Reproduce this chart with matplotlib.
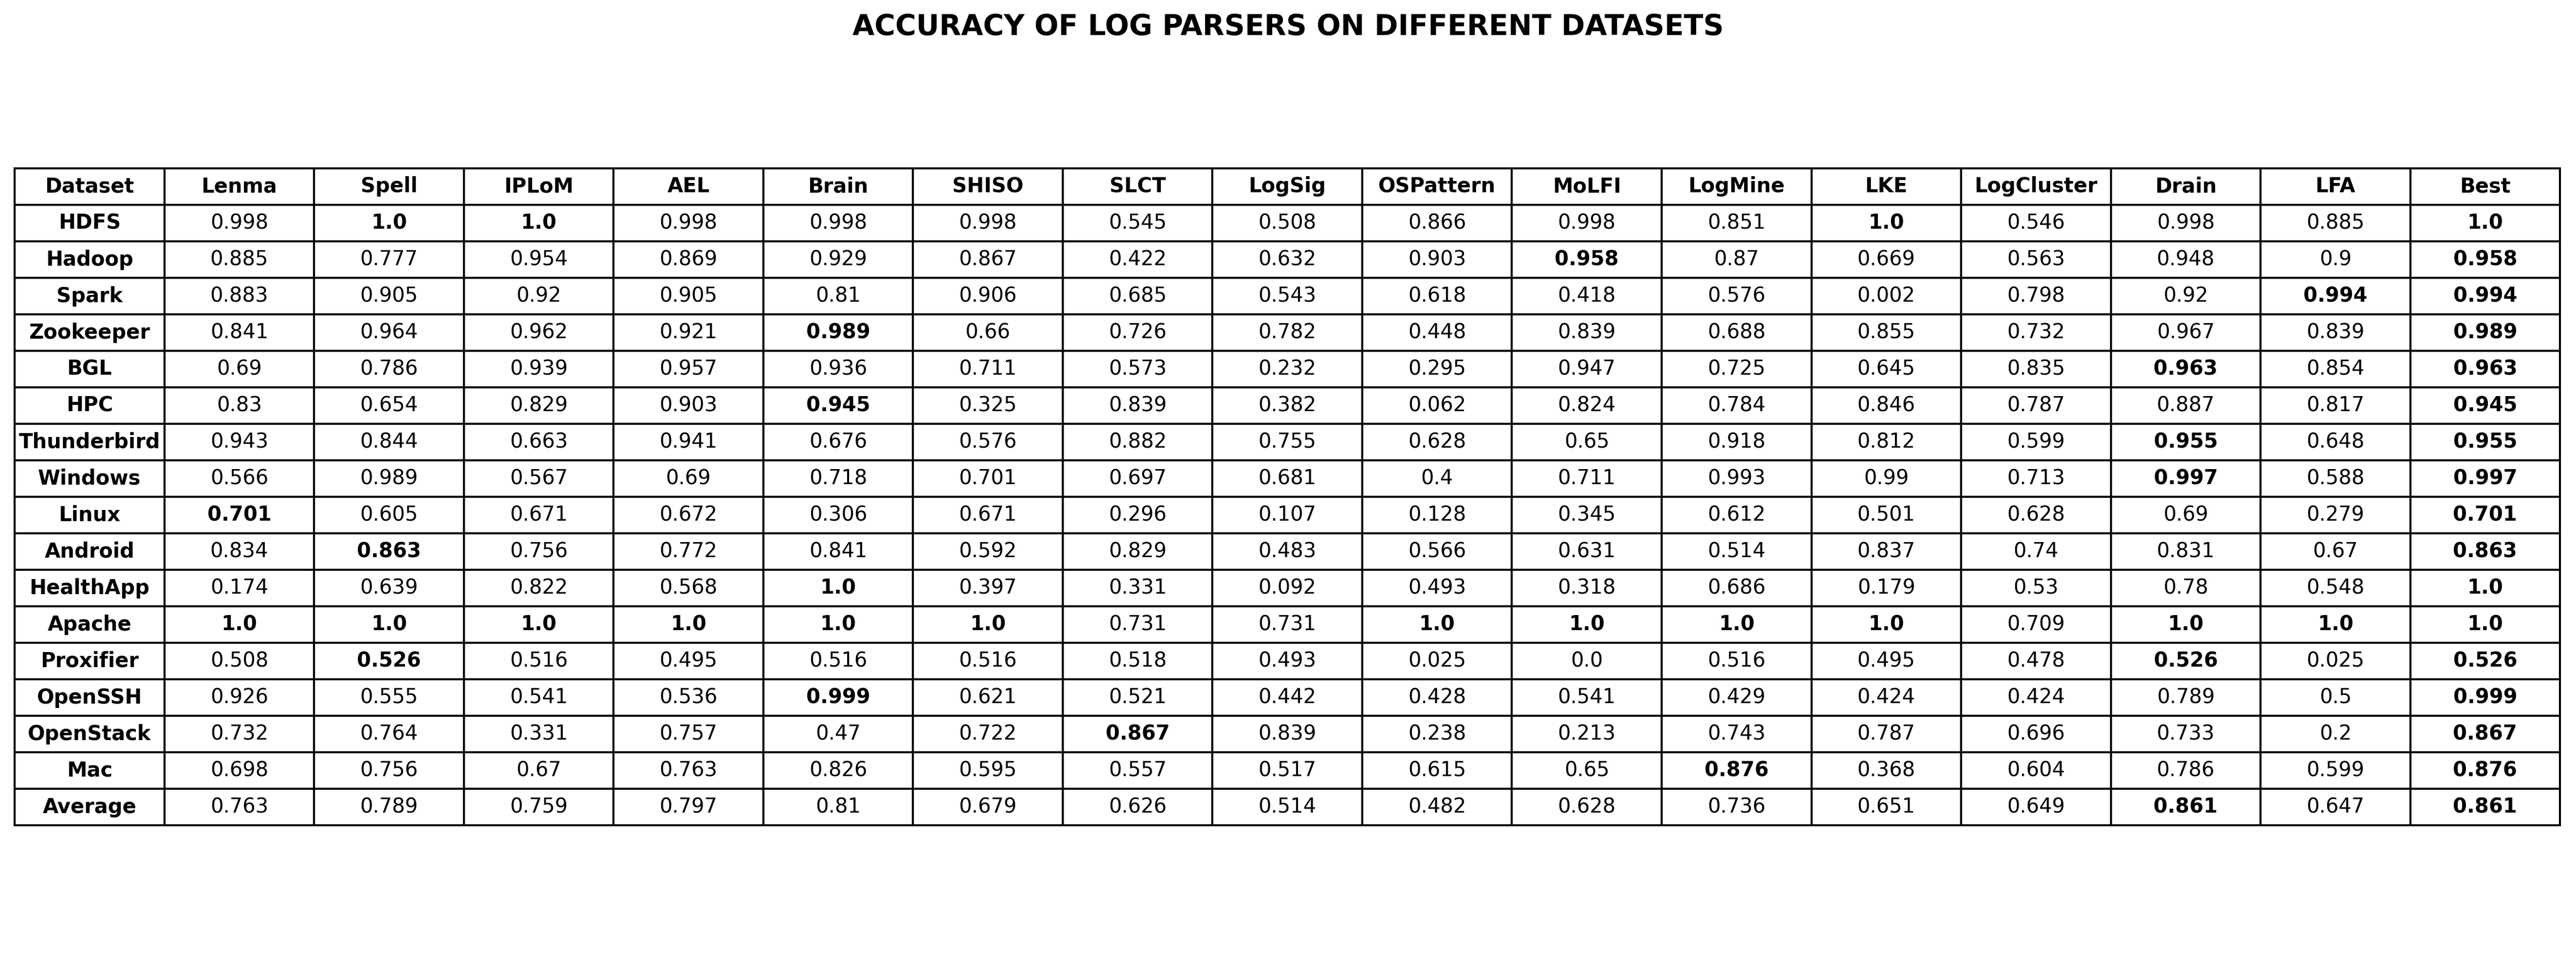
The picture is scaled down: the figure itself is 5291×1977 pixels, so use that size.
import matplotlib.pyplot as plt

parsers = ['Lenma', 'Spell', 'IPLoM', 'AEL', 'Brain', 'SHISO', 'SLCT', 'LogSig', 'OSPattern',
           'MoLFI', 'LogMine', 'LKE', 'LogCluster', 'Drain', 'LFA', 'Best']
datasets = ['HDFS', 'Hadoop', 'Spark', 'Zookeeper', 'BGL', 'HPC', 'Thunderbird', 'Windows', 'Linux',
            'Android', 'HealthApp', 'Apache', 'Proxifier', 'OpenSSH', 'OpenStack', 'Mac', 'Average']

HDFS = [0.998, 1.0, 1.0, 0.998, 0.998, 0.998, 0.545, 0.508, 0.866, 0.998, 0.851, 1.0, 0.546, 0.998, 0.885, 1.0]
Hadoop = [0.885, 0.777, 0.954, 0.869, 0.929, 0.867, 0.422, 0.632, 0.903, 0.958, 0.87, 0.669, 0.563, 0.948, 0.9, 0.958]
Spark = [0.883, 0.905, 0.92, 0.905, 0.81, 0.906, 0.685, 0.543, 0.618, 0.418, 0.576, 0.002, 0.798, 0.92, 0.994, 0.994]
Zookeeper = [0.841, 0.964, 0.962, 0.921, 0.989, 0.66, 0.726, 0.782, 0.448, 0.839, 0.688, 0.855, 0.732, 0.967, 0.839, 0.989]
BGL = [0.69, 0.786, 0.939, 0.957, 0.936, 0.711, 0.573, 0.232, 0.295, 0.947, 0.725, 0.645, 0.835, 0.963, 0.854, 0.963]
HPC = [0.83, 0.654, 0.829, 0.903, 0.945, 0.325, 0.839, 0.382, 0.062, 0.824, 0.784, 0.846, 0.787, 0.887, 0.817, 0.945]
Thunderbird = [0.943, 0.844, 0.663, 0.941, 0.676, 0.576, 0.882, 0.755, 0.628, 0.65, 0.918, 0.812, 0.599, 0.955, 0.648, 0.955]
Windows = [0.566, 0.989, 0.567, 0.69, 0.718, 0.701, 0.697, 0.681, 0.4, 0.711, 0.993, 0.99, 0.713, 0.997, 0.588, 0.997]
Linux = [0.701, 0.605, 0.671, 0.672, 0.306, 0.671, 0.296, 0.107, 0.128, 0.345, 0.612, 0.501, 0.628, 0.69, 0.279, 0.701]
Android = [0.834, 0.863, 0.756, 0.772, 0.841, 0.592, 0.829, 0.483, 0.566, 0.631, 0.514, 0.837, 0.74, 0.831, 0.67, 0.863]
HealthApp = [0.174, 0.639, 0.822, 0.568, 1.0, 0.397, 0.331, 0.092, 0.493, 0.318, 0.686, 0.179, 0.53, 0.78, 0.548, 1.0]
Apache = [1.0, 1.0, 1.0, 1.0, 1.0, 1.0, 0.731, 0.731, 1.0, 1.0, 1.0, 1.0, 0.709, 1.0, 1.0, 1.0]
Proxifier = [0.508, 0.526, 0.516, 0.495, 0.516, 0.516, 0.518, 0.493, 0.025, 0.0, 0.516, 0.495, 0.478, 0.526, 0.025, 0.526]
OpenSSH = [0.926, 0.555, 0.541, 0.536, 0.999, 0.621, 0.521, 0.442, 0.428, 0.541, 0.429, 0.424, 0.424, 0.789, 0.5, 0.999]
OpenStack = [0.732, 0.764, 0.331, 0.757, 0.47, 0.722, 0.867, 0.839, 0.238, 0.213, 0.743, 0.787, 0.696, 0.733, 0.2, 0.867]
Mac = [0.698, 0.756, 0.67, 0.763, 0.826, 0.595, 0.557, 0.517, 0.615, 0.65, 0.876, 0.368, 0.604, 0.786, 0.599, 0.876]
Average = [0.763, 0.789, 0.759, 0.797, 0.81, 0.679, 0.626, 0.514, 0.482, 0.628, 0.736, 0.651, 0.649, 0.861, 0.647, 0.861]

rows = [HDFS, Hadoop, Spark, Zookeeper, BGL, HPC, Thunderbird, Windows, Linux,
        Android, HealthApp, Apache, Proxifier, OpenSSH, OpenStack, Mac, Average]

fig = plt.figure(figsize=(26.455, 9.885), dpi=200)
ax = fig.add_axes([0, 0, 1, 1])
ax.axis('off')

cell_text = [[name] + [str(v) for v in r] for name, r in zip(datasets, rows)]
tab = ax.table(cellText=cell_text, colLabels=['Dataset'] + parsers, cellLoc='center',
               bbox=[0.0057, 0.142, 0.9881, 0.683])
tab.auto_set_font_size(False)
tab.set_fontsize(15)

for (i, j), cell in tab.get_celld().items():
    cell.set_linewidth(1.5)
    if i == 0 or j == 0:
        cell.get_text().set_fontweight('bold')
    else:
        r = rows[i - 1]
        if r[j - 1] == max(r):
            cell.get_text().set_fontweight('bold')

fig.text(0.5, 0.972, 'ACCURACY OF LOG PARSERS ON DIFFERENT DATASETS', ha='center', va='center',
         fontsize=21, fontweight='bold')

fig.savefig('out.png')
